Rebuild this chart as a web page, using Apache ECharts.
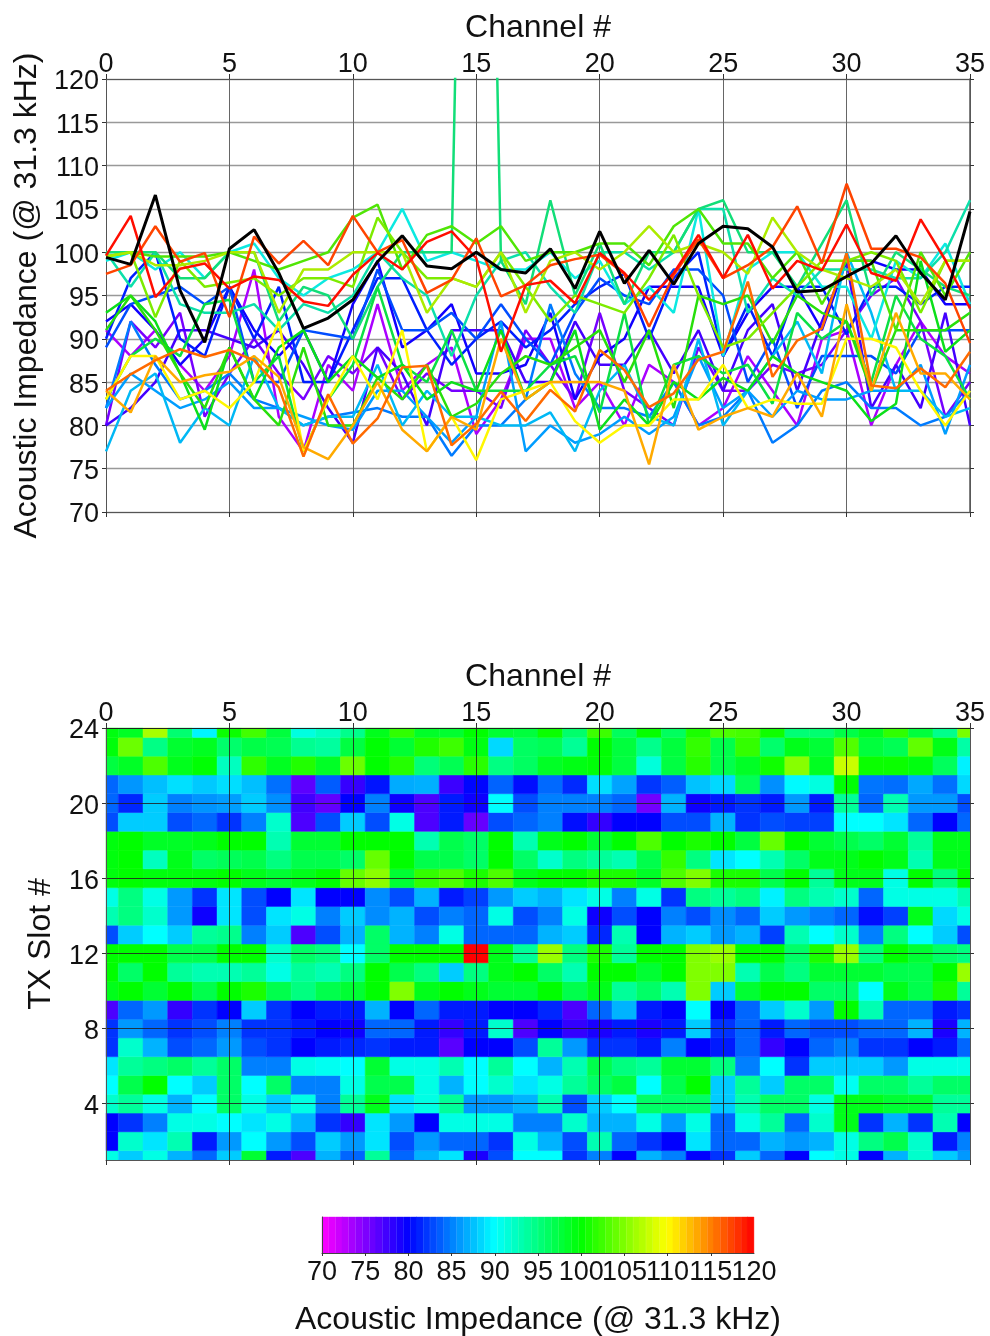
<!DOCTYPE html>
<html>
<head>
<meta charset="utf-8">
<style>html,body{margin:0;padding:0;background:#fff}#c{width:990px;height:1336px}</style>
<script src="https://cdn.jsdelivr.net/npm/echarts@6/dist/echarts.min.js"></script>
</head>
<body>
<div id="c"></div>
<script>
const channels = [0,1,2,3,4,5,6,7,8,9,10,11,12,13,14,15,16,17,18,19,20,21,22,23,24,25,26,27,28,29,30,31,32,33,34,35];
const slotTicks = [4,8,12,16,20,24];
const slots = [1,2,3,4,5,6,7,8,9,10,11,12,13,14,15,16,17,18,19,20,21,22,23,24];
const barLastTick = [120];

const row01 = [91,88,91,87,84,88,98,81,77,87,84,94,84,87,89,79,83,90,90,82,85,80,87,85,80,82,88,84,80,90,91,80,87,92,88,86];
const row02 = [80,92,89,93,81,86,90,86,83,88,86,89,83,86,84,84,82,91,87,83,93,84,82,80,89,84,84,87,86,87,91,95,97,92,81,85];
const row03 = [80,82,85,91,91,90,89,91,87,82,78,89,86,80,91,91,91,85,85,92,87,87,91,86,91,84,91,94,84,92,99,82,87,82,93,80];
const row04 = [92,94,91,87,90,96,91,88,91,85,94,99,89,91,94,86,86,87,93,83,88,90,96,96,96,88,93,96,96,91,99,99,98,98,94,94];
const row05 = [90,97,100,90,88,96,90,96,85,85,91,97,97,91,87,90,92,89,91,94,96,97.5,90,97,100,88,94,88,96,96,90.5,96,96,94,96,96];
const row06 = [89,94,95,96,94,96,85,85,91,90.5,90,98,91,91,93,90,94,90,87,93,97,95,94,98,98,95,85,90,82,88,88,88,86,91,91,91];
const row07 = [82,92,87,83,84,86,83,82,80,81,81.5,82,81,81,76.5,80,80,83,94,86,82,82,81,85,80,81,84,78,80,84,85,82,82,80,81,84];
const row08 = [82,86,84,82,83,85,82,82,81,80,79.5,84,84,81,78,81,92,77,80,78,79,81,79,81,88,82,84,81,84,83,83,84,84,87,79,87];
const row09 = [77,84,86,78,82,80,88,82,80,81,81,87,80,84,81,81,80,80,81.5,77,84,87,81,80,90,80,84,88,92,86,100,93,84,84,81,82];
const row10 = [99,100,98,100,97,100,101,97,95,97,98,100,105,99,100,99,98,98,100,97,99,94,96,93,105,88,98,100,100,96,96,90,99,97,101,94];
const row11 = [100,96,100,94,93,93,94,91,94,93,95,100,97,95,88,95,99,100,96,93,100,100,98,100,105,105,93,97,95,98,98,98,97,97,100,106];
const row12 = [100,100,100,97,97,100,100,92,96,95,90,96,100,100,100,240,99,94,106,95,101,94,100,100,105,106,100,100,96,101,106,95,100,98,96,95];
const row13 = [83,88,90,88,94,94.5,85,88,77,83,87,96,87,85,91,84,84,84,87,88,81.5,93,80,87,88,86,87,82.5,93,90,92,85,95,90,88,83];
const row14 = [93,95,92,86,79.5,89,83,89,91,85,88,85.5,87,83,85,84,91,83,85,91,79.5,83,80,85,83,85.5,84,88,86,85,84,80.5,82.5,99,88.5,91];
const row15 = [91,95,91,86,82,89,83,80,89,80,80,85.5,83,87,81,82.5,86,88,87,89,91,85,91,82,95,94,95,89.5,95,93,92,84,91,91,91,93];
const row16 = [99.5,100,99.5,99.5,99.5,100,99,98,99,100,104,105.5,98,102,103,101,103,99,100,100,101,101,98.5,103,105,101,101,97,100,94,99,99,91,100,95,100];
const row17 = [99.5,100,92.5,99,96,96.5,97,95,97,97,96,104,100,97,97,96,100,96,92,95,94,93,97,102,95,89,90,93,96,99,99,100,99,93,99,99];
const row18 = [99.5,100,98.5,98.5,99,100,100,93,98,98,100,100,100,93,97,96,100,93,99,100,98,100,103,100,101,100,97.5,104,100,98,97,96,98,94,99,99];
const row19 = [83,88,88,83,84,82,85,92,77,83,88,83,91,77,81,76,83,84,85,80.5,78,80,80,83,83,87,82,83,82.5,82.5,90,90,89,84,80,84];
const row20 = [84,81.5,88,85,85.8,86.2,88,85.6,77.5,76.1,80,85,79.5,77,81,79.5,90,83,85,85,85,84,75.5,87,79.5,81,82,81,86,81,94,84,93,86,86,83];
const row21 = [84,85.9,87.5,88.8,87.9,88.7,87.5,84.4,76.4,83.6,77.9,80.8,86.7,86.9,77.7,80.2,83.9,80.5,84.1,81.6,88.7,86.4,82.1,83.7,87.6,88.5,96.6,85.6,89.8,91.2,99.9,84.6,84.3,86.6,84.4,88.5];
const row22 = [97.5,98.5,103,98.9,99.9,92.5,101.8,98.7,101.3,98.5,104.2,100,101.4,95.3,96.8,101.6,94.9,96.2,98.5,99.2,99.7,97.5,91.4,97.4,101.5,97,98.5,100.6,105.3,98.7,107.9,100.4,100.4,99.4,96.4,89.5];
const row23 = [99.6,104.2,94.8,98.1,98.7,95.8,97.2,96.8,94.3,93.8,97.4,99.9,98,101.2,102.4,99.3,88.5,96.2,96.7,94.1,99.9,97.6,94.5,97.6,102,97,102,95.8,99,97.9,103.2,97.6,96.7,103.8,99.1,93.5];
const row24 = [99.4,98.6,106.6,95.6,89.6,100.4,102.6,97.6,91.2,92.4,94.5,98.9,101.9,98.4,98.1,100,98,97.6,100.4,95.8,102.4,96.4,100.2,96.3,101,103,102.7,100.6,95.4,95.6,97.2,98.7,101.9,97.6,94.5,104.7];
const rows = [row01,row02,row03,row04,row05,row06,row07,row08,row09,row10,row11,row12,row13,row14,row15,row16,row17,row18,row19,row20,row21,row22,row23,row24];

const lineColors = ['hsl(280,100%,50%)','hsl(268,100%,50%)','hsl(256,100%,50%)','hsl(244,100%,50%)','hsl(233,100%,50%)','hsl(222,100%,50%)','hsl(211,100%,50%)','hsl(203,100%,50%)','hsl(195,100%,48%)','hsl(178,90%,48%)','hsl(165,90%,46%)','hsl(150,85%,47%)','hsl(136,90%,46%)','hsl(124,90%,46%)','hsl(112,90%,46%)','hsl(100,95%,46%)','hsl(88,100%,46%)','hsl(76,100%,46%)','hsl(58,100%,50%)','hsl(40,100%,50%)','hsl(25,100%,50%)','hsl(16,100%,50%)','hsl(3,100%,50%)','#000000'];

const barLevels = [70.4,71.2,72.0,72.7,73.5,74.3,75.1,75.9,76.6,77.4,78.2,79.0,79.8,80.6,81.3,82.1,82.9,83.7,84.5,85.2,86.0,86.8,87.6,88.4,89.2,89.9,90.7,91.5,92.3,93.1,93.8,94.6,95.4,96.2,97.0,97.8,98.5,99.3,100.1,100.9,101.7,102.4,103.2,104.0,104.8,105.6,106.4,107.1,107.9,108.7,109.5,110.3,111.0,111.8,112.6,113.4,114.2,115.0,115.7,116.5,117.3,118.1,118.9,119.6];
const barStep = 0.78125;
const scaleColors = ['#ff00ff','#0000ff','#00ffff','#00ff00','#ffff00','#ff0000'];

const FONT = '"Liberation Sans", Arial, sans-serif';
const TICK = 27, TITLE = 32, INK = '#111';

function xLabel(){ return {show:true, color:INK, fontFamily:FONT, fontSize:TICK, margin:1}; }
function yLabel(){ return {show:true, margin:7, formatter:'{t|{value}}', rich:{t:{color:INK, fontFamily:FONT, fontSize:TICK, padding:[6,0,0,0]}}}; }
function nameStyle(){ return {color:INK, fontFamily:FONT, fontSize:TITLE}; }
function tick(len){ return {show:true, length:len, lineStyle:{color:'#333', width:1}}; }
function frameX(o){ return Object.assign({type:'value', min:0, max:35, interval:5, axisLine:{show:true,onZero:false,lineStyle:{color:'#555',width:1}}, axisTick:tick(5)}, o); }

const lineSeries = rows.map((r,i)=>({
  type:'line', xAxisIndex:0, yAxisIndex:0, name:'TX '+slots[i],
  data:r.map((v,c)=>[channels[c],v]),
  showSymbol:false, clip:true, silent:true,
  lineStyle:{color:lineColors[i], width:i===23?3:2.5}, z:3
}));

const cells = [];
rows.forEach((r,i)=>r.forEach((v,c)=>cells.push([channels[c],slots[i],v])));

function renderCell(params, api){
  const x = api.value(0), y = api.value(1);
  const a = api.coord([x-0.5, y+0.5]), b = api.coord([x+0.5, y-0.5]);
  const cs = params.coordSys;
  const shape = echarts.graphic.clipRectByRect(
    {x:a[0], y:a[1], width:b[0]-a[0], height:b[1]-a[1]},
    {x:cs.x, y:cs.y, width:cs.width, height:cs.height});
  const color = api.visual('color');
  return shape && {type:'rect', shape, style:{fill:color, stroke:color, lineWidth:0.5}};
}
function renderBar(params, api){
  const x = api.value(0);
  const a = api.coord([x-barStep/2, 1]), b = api.coord([x+barStep/2, 0]);
  const color = api.visual('color');
  return {type:'rect', shape:{x:a[0], y:a[1], width:b[0]-a[0], height:b[1]-a[1]}, style:{fill:color, stroke:color, lineWidth:0.4}};
}

const option = {
  animation:false,
  backgroundColor:'#fff',
  grid:[
    {left:106, top:79, width:864, height:433, outerBoundsMode:'none'},
    {left:106, top:728, width:864, height:432, outerBoundsMode:'none'},
    {left:322, top:1217, width:432, height:36, outerBoundsMode:'none'}
  ],
  visualMap:[{
    type:'continuous', show:false, min:70, max:120, dimension:2, seriesIndex:[24],
    inRange:{color:scaleColors}, outOfRange:{color:'#ff0000'}
  },{
    type:'continuous', show:false, min:70, max:120, dimension:1, seriesIndex:[25],
    inRange:{color:scaleColors}, outOfRange:{color:'#ff0000'}
  }],
  xAxis:[
    frameX({gridIndex:0, position:'top', name:'Channel #', nameLocation:'middle', nameGap:35, nameTextStyle:nameStyle(), axisLabel:xLabel(), splitLine:{show:true,lineStyle:{color:'#666',width:1}}}),
    frameX({gridIndex:0, position:'bottom', axisLabel:{show:false}, splitLine:{show:false}}),
    frameX({gridIndex:1, position:'top', z:6, name:'Channel #', nameLocation:'middle', nameGap:35, nameTextStyle:nameStyle(), axisLabel:xLabel(), axisLine:{show:true,onZero:false,lineStyle:{color:'#222',width:1}}, splitLine:{show:true,lineStyle:{color:'#222',width:1,opacity:0.85}}}),
    frameX({gridIndex:1, position:'bottom', z:6, axisLabel:{show:false}, splitLine:{show:false}}),
    {gridIndex:2, type:'value', position:'bottom', min:70, max:120, interval:5, z:6,
     name:'Acoustic Impedance (@ 31.3 kHz)', nameLocation:'middle', nameGap:51, nameTextStyle:nameStyle(),
     axisLine:{show:true,onZero:false,lineStyle:{color:'#444',width:1}}, axisTick:tick(3),
     axisLabel:{show:true, color:INK, fontFamily:FONT, fontSize:TICK, margin:6, showMaxLabel:false, hideOverlap:false}, splitLine:{show:false}},
    {gridIndex:2, type:'value', position:'bottom', min:70, max:120, z:6,
     axisLine:{show:false,onZero:false}, axisTick:{show:false,customValues:barLastTick},
     axisLabel:{show:true, color:INK, fontFamily:FONT, fontSize:TICK, margin:6, customValues:barLastTick, showMaxLabel:true}, splitLine:{show:false}}
  ],
  yAxis:[
    {gridIndex:0, type:'value', position:'left', min:70, max:120, interval:5,
     name:'Acoustic Impedance (@ 31.3 kHz)', nameLocation:'middle', nameGap:63, nameRotate:90, nameTextStyle:nameStyle(),
     axisLine:{show:true,onZero:false,lineStyle:{color:'#555',width:1}}, axisTick:tick(4),
     axisLabel:yLabel(), splitLine:{show:true,lineStyle:{color:'#999',width:1.4}}},
    {gridIndex:0, type:'value', position:'right', min:70, max:120, interval:5,
     axisLine:{show:true,onZero:false,lineStyle:{color:'#555',width:1.5}}, axisTick:tick(4), axisLabel:{show:false}, splitLine:{show:false}},
    {gridIndex:1, type:'value', position:'left', min:1, max:24, z:6,
     name:'TX Slot #', nameLocation:'middle', nameGap:49, nameRotate:90, nameTextStyle:nameStyle(),
     axisLine:{show:true,onZero:false,lineStyle:{color:'#555',width:1}}, axisTick:Object.assign(tick(4),{customValues:slotTicks}),
     axisLabel:Object.assign(yLabel(),{customValues:slotTicks}), splitLine:{show:true,lineStyle:{color:'#222',width:1,opacity:0.85}}},
    {gridIndex:1, type:'value', position:'right', min:1, max:24, z:6,
     axisLine:{show:true,onZero:false,lineStyle:{color:'#555',width:1}}, axisTick:Object.assign(tick(4),{customValues:slotTicks}), axisLabel:{show:false}, splitLine:{show:false}},
    {gridIndex:2, type:'value', min:0, max:1, z:6,
     axisLine:{show:true,onZero:false,lineStyle:{color:'#444',width:1}}, axisTick:{show:false}, axisLabel:{show:false}, splitLine:{show:false}}
  ],
  series:lineSeries.concat([
    {type:'custom', coordinateSystem:'cartesian2d', xAxisIndex:2, yAxisIndex:2, data:cells, renderItem:renderCell, encode:{x:0,y:1}, z:2, silent:true, clip:false},
    {type:'custom', coordinateSystem:'cartesian2d', xAxisIndex:4, yAxisIndex:4, data:barLevels.map(v=>[v,v]), renderItem:renderBar, encode:{x:0}, z:2, silent:true, clip:false}
  ])
};
const chart = echarts.init(document.getElementById('c'), null, {renderer:'canvas'});
chart.setOption(option);
</script>
</body>
</html>
